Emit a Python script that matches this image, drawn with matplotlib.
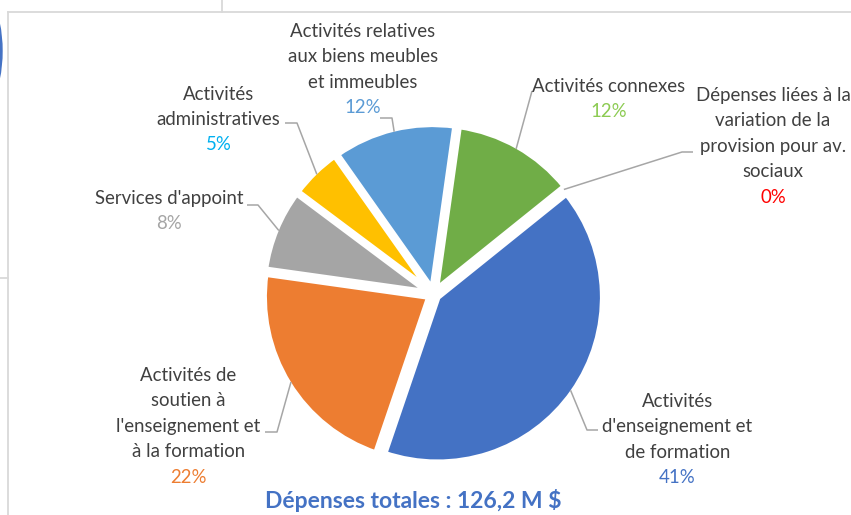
import math
import matplotlib
matplotlib.use("Agg")
import matplotlib.pyplot as plt
from matplotlib.patches import Circle

# ---------------- data ----------------
categories = [
    "Activités connexes",
    "Dépenses liées à la variation de la provision pour av. sociaux",
    "Activités d'enseignement et de formation",
    "Activités de soutien à l'enseignement et à la formation",
    "Services d'appoint",
    "Activités administratives",
    "Activités relatives aux biens meubles et immeubles",
]
label_lines = [
    ["Activités connexes"],
    ["Dépenses liées à la", "variation de la", "provision pour av.", "sociaux"],
    ["Activités", "d'enseignement et", "de formation"],
    ["Activités de", "soutien à", "l'enseignement et", "à la formation"],
    ["Services d'appoint"],
    ["Activités", "administratives"],
    ["Activités relatives", "aux biens meubles", "et immeubles"],
]
values = [12, 0, 41, 22, 8, 5, 12]
title_text = "Dépenses totales : 126,2 M $"

# ---------------- styles ----------------
slice_colors = ["#70AD47", "#FF0000", "#4472C4", "#ED7D31", "#A5A5A5", "#FFC000", "#5B9BD5"]
pct_colors = ["#8CCB52", "#FF0000", "#4472C4", "#ED7D31", "#A5A5A5", "#00B0F0", "#5B9BD5"]
text_color = "#404040"
leader_color = "#A6A6A6"
frame_color = "#D9D9D9"
fam = ["Lato", "DejaVu Sans"]
plt.rcParams["font.family"] = fam

W, H = 851, 515
fig = plt.figure(figsize=(W / 100, H / 100), dpi=100)
ax = fig.add_axes([0, 0, 1, 1])

# label layout: (center x, first baseline y, leader elbow points) in pixel coords
layout = [
    (609, 92, [(532, 91)]),
    (773, 101, [(682, 152), (693, 152)]),
    (677.5, 407, [(587, 430), (598, 430)]),
    (188.5, 381, [(277, 432), (265, 432)]),
    (169, 204, [(258, 205), (247, 205)]),
    (218.5, 99.5, [(297, 123), (285, 123)]),
    (363, 37, [(392, 118), (380, 118)]),
]
pitch = 25.4
fs = 13.4
edge_px = 6.0
R = 165.3

wedges, _ = ax.pie(
    values,
    colors=slice_colors,
    startangle=-82,
    counterclock=True,
    center=(433.5, 294.3),
    radius=R,
    explode=[5] * len(values),
    wedgeprops=dict(edgecolor="white", linewidth=edge_px * 0.72),
)

ax.set_xlim(0, W)
ax.set_ylim(H, 0)
ax.set_aspect("auto")
ax.axis("off")

for w, lines, v, pc, (tx, ty, elbows) in zip(wedges, label_lines, values, pct_colors, layout):
    tm = math.radians((w.theta1 + w.theta2) / 2)
    rr = w.r - edge_px / 2
    sx = w.center[0] + rr * math.cos(tm)
    sy = w.center[1] + rr * math.sin(tm)
    xs = [sx] + [p[0] for p in elbows]
    ys = [sy] + [p[1] for p in elbows]
    ax.plot(xs, ys, color=leader_color, lw=1.1, solid_capstyle="butt", zorder=1)
    for i, line in enumerate(lines):
        ax.text(tx, ty + i * pitch, line, ha="center", va="baseline",
                fontsize=fs, color=text_color)
    ax.text(tx, ty + len(lines) * pitch, f"{v}%", ha="center", va="baseline",
            fontsize=fs, color=pc)

ax.text(413.5, 508, title_text, ha="center", va="baseline", fontsize=16.5,
        fontweight="bold", color="#4472C4")

# frame decorations (screenshot borders)
ax.plot([8, W], [11.5, 11.5], color=frame_color, lw=1.3, zorder=0)
ax.plot([8, 8], [11.5, H], color=frame_color, lw=1.3, zorder=0)
ax.plot([221.5, 221.5], [0, 11.5], color=frame_color, lw=1.3, zorder=0)
ax.plot([0, 8], [277.5, 277.5], color=frame_color, lw=1.3, zorder=0)
ax.add_patch(Circle((-143, 51), 145, color="#4472C4", zorder=0))

fig.savefig("out.png", dpi=100)
